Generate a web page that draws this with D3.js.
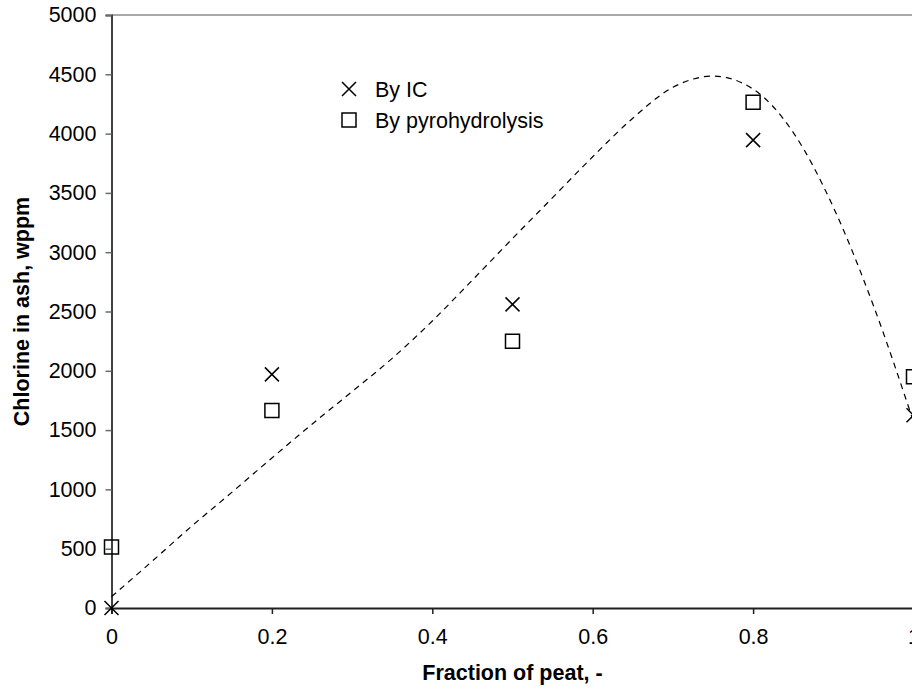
<!DOCTYPE html>
<html>
<head>
<meta charset="utf-8">
<script src="https://cdn.jsdelivr.net/npm/d3@7"></script>
<style>
  html, body { margin: 0; padding: 0; background: #fff; overflow: hidden; }
  svg { display: block; font-family: "Liberation Sans", Arial, Helvetica, sans-serif; }
</style>
</head>
<body>
<svg id="chart" width="912" height="691"></svg>
<script>
// Measured chlorine content in ash versus peat fraction in the fuel blend
const peatFraction = [0, 0.2, 0.5, 0.8, 1.0];
const chlorineIC = [0, 1970, 2560, 3945, 1625];
const chlorinePyro = [515, 1665, 2250, 4265, 1950];

// Dashed trend curve
const trendX = [0, 0.05, 0.1, 0.15, 0.2, 0.25, 0.3, 0.35, 0.4, 0.45, 0.5,
                0.55, 0.6, 0.65, 0.7, 0.75, 0.8, 0.85, 0.9, 0.95, 1.0];
const trendY = [95, 390, 690, 975, 1265, 1550, 1825, 2105, 2420, 2765, 3115,
                3460, 3805, 4130, 4390, 4485, 4375, 4010, 3380, 2550, 1570];

// Axis ticks
const xTicks = [0, 0.2, 0.4, 0.6, 0.8, 1];
const xTickLabels = ["0", "0.2", "0.4", "0.6", "0.8", "1"];
const yTicks = [0, 500, 1000, 1500, 2000, 2500, 3000, 3500, 4000, 4500, 5000];

const legendItems = ["By IC", "By pyrohydrolysis"];

const svg = d3.select("#chart");
const FONT = 21.5;

const x = d3.scaleLinear().domain([0, 1]).range([111.5, 913.5]);
const y = d3.scaleLinear().domain([0, 5000]).range([608, 15]);

// Plot frame (top edge)
svg.append("line")
  .attr("x1", x(0)).attr("x2", x(1))
  .attr("y1", y(5000)).attr("y2", y(5000))
  .attr("stroke", "#8c8c8c").attr("stroke-width", 1.5);

// Y axis
const yAxis = svg.append("g")
  .attr("transform", `translate(${x(0)},0)`)
  .call(d3.axisLeft(y).tickValues(yTicks).tickSize(6).tickPadding(9)
        .tickFormat(d3.format("d")));
yAxis.select(".domain").attr("stroke", "#404040").attr("stroke-width", 2);
yAxis.selectAll(".tick line").attr("stroke", "#6a6a6a").attr("stroke-width", 1.5);
yAxis.selectAll(".tick text").attr("font-size", FONT).attr("fill", "#000")
  .attr("font-family", "Liberation Sans, Arial, sans-serif");

// X axis
const xAxis = svg.append("g")
  .attr("transform", `translate(0,${y(0)})`)
  .call(d3.axisBottom(x).tickValues(xTicks).tickSize(6).tickPadding(15)
        .tickFormat((d, i) => xTickLabels[i]));
xAxis.select(".domain").attr("stroke", "#202020").attr("stroke-width", 2);
xAxis.selectAll(".tick line").attr("stroke", "#202020").attr("stroke-width", 1.5);
xAxis.selectAll(".tick text").attr("font-size", FONT).attr("fill", "#000")
  .attr("font-family", "Liberation Sans, Arial, sans-serif");

// Axis titles
svg.append("text")
  .attr("x", (x(0) + x(1)) / 2).attr("y", 680)
  .attr("text-anchor", "middle")
  .attr("font-size", FONT).attr("font-weight", "bold")
  .text("Fraction of peat, -");

svg.append("text")
  .attr("transform", `translate(29,${(y(0) + y(5000)) / 2}) rotate(-90)`)
  .attr("text-anchor", "middle")
  .attr("font-size", FONT).attr("font-weight", "bold")
  .text("Chlorine in ash, wppm");

// Trend curve
const trend = trendX.map((v, i) => [v, trendY[i]]);
svg.append("path")
  .datum(trend)
  .attr("fill", "none")
  .attr("stroke", "#000")
  .attr("stroke-width", 1.2)
  .attr("stroke-dasharray", "6,5")
  .attr("d", d3.line().x(d => x(d[0])).y(d => y(d[1])).curve(d3.curveMonotoneX));

// Marker shapes
const crossPath = "M-7,-7L7,7M-7,7L7,-7";
const squarePath = "M-7,-7H7V7H-7Z";

function drawMarkers(values, shape) {
  svg.append("g").selectAll("path")
    .data(values.map((v, i) => [peatFraction[i], v]))
    .join("path")
    .attr("transform", d => `translate(${x(d[0])},${y(d[1])})`)
    .attr("d", shape)
    .attr("fill", "none")
    .attr("stroke", "#000")
    .attr("stroke-width", 1.5);
}
drawMarkers(chlorineIC, crossPath);
drawMarkers(chlorinePyro, squarePath);

// Legend
const legend = svg.append("g").attr("transform", "translate(349,89)");
[crossPath, squarePath].forEach((shape, i) => {
  const row = legend.append("g").attr("transform", `translate(0,${i * 31})`);
  row.append("path").attr("d", shape).attr("fill", "none")
    .attr("stroke", "#000").attr("stroke-width", 1.5);
  row.append("text").attr("x", 26).attr("y", 7.5)
    .attr("font-size", FONT).text(legendItems[i]);
});
</script>
</body>
</html>
